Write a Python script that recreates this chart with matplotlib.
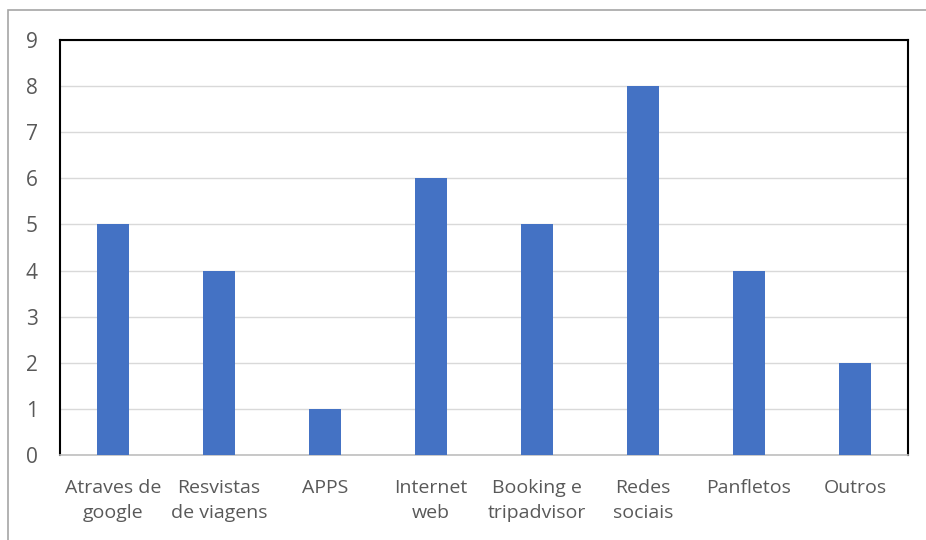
import matplotlib
matplotlib.use('Agg')
import matplotlib.pyplot as plt
from matplotlib.patches import Rectangle

categories = ['Atraves de\ngoogle', 'Resvistas\nde viagens', 'APPS', 'Internet\nweb',
              'Booking e\ntripadvisor', 'Redes\nsociais', 'Panfletos', 'Outros']
values = [5, 4, 1, 6, 5, 8, 4, 2]
yticks = list(range(0, 10))

plt.rcParams['font.family'] = ['Open Sans', 'DejaVu Sans']

W, H = 926, 540
fig = plt.figure(figsize=(W / 100, H / 100), dpi=100)
ax = fig.add_axes([60 / W, 1 - 455 / H, 848 / W, 415 / H])

# outer chart frame
fig.patches.append(Rectangle((8 / W, -0.1), 1.2, 1 - 10 / H + 0.1, transform=fig.transFigure,
                             fill=False, edgecolor='#a6a6a6', linewidth=1.2))

x = range(len(categories))
ax.bar(x, values, width=0.31, color='#4472c4', zorder=3)

ax.set_xlim(-0.5, len(categories) - 0.5)
ax.set_ylim(0, 9)
ax.set_yticks(yticks)
ax.set_xticks(list(x))
ax.set_xticklabels(categories, linespacing=1.5)
ax.grid(axis='y', color='#d9d9d9', linewidth=1, zorder=0)
ax.tick_params(length=0, labelsize=14, colors='#595959')
ax.tick_params(axis='y', pad=16, labelsize=15)
ax.tick_params(axis='x', pad=17)

for side in ['left', 'top', 'right']:
    ax.spines[side].set_color('black')
    ax.spines[side].set_linewidth(1.5)
ax.spines['bottom'].set_color('#bfbfbf')
ax.spines['bottom'].set_linewidth(1.2)

fig.savefig('out.png', dpi=100)
